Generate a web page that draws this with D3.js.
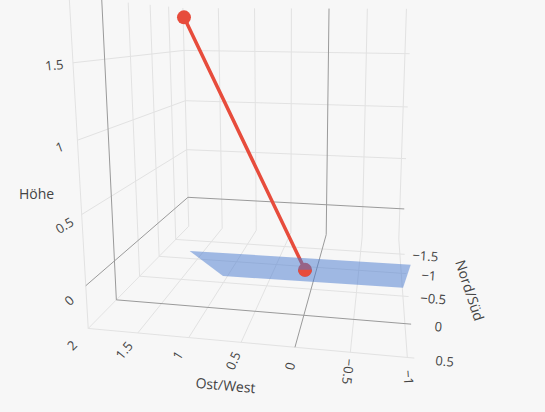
<!DOCTYPE html>
<html><head><meta charset="utf-8">
<script src="https://cdn.jsdelivr.net/npm/d3@7"></script>
<style>body{margin:0;background:#f7f7f7} svg{display:block}</style>
</head><body><svg id="c" width="545" height="412"></svg>
<script>
// ---- data ----
const xTicks=[-1,-0.5,0,0.5,1,1.5,2];
const yTicks=[-1.5,-1,-0.5,0,0.5];
const zTicks=[0,0.5,1,1.5];
const xRange=[-1.06,2.0], yRange=[-1.95,0.5], zRange=[-0.31,1.91];
// Ebene (plane patch)
const planeX=[1.61,-1.11,-1.00,1.00];
const planeY=[-1.03,-1.06,-0.52,-0.49];
const planeZ=[-0.25,-0.25,-0.25,-0.25];
// Gerade (line segment between two points)
const lineX=[1.95,0.11];
const lineY=[-1.86,-0.76];
const lineZ=[1.82,-0.25];
const axisTitles={x:"Ost/West",y:"Nord/Süd",z:"Höhe"};

(function(){
const W=545,H=412;
// scene normalisation (cube aspect) via d3 scales
const sx=d3.scaleLinear().domain(xRange).range([-1,1]);
const sy=d3.scaleLinear().domain(yRange).range([-1,1]);
const sz=d3.scaleLinear().domain(zRange).range([-1,1]);
// perspective camera (3x4 projection matrix, normalised screen units)
const camera={scale:300,cx:272.5,cy:206,
 M:[[-0.44697,-0.08145,-0.00133,0.00324],
    [-0.02445,0.13044,-0.44502,-0.20291],
    [0.03485,-0.22001,-0.03796,1.00000]]};
function proj(x,y,z){const P=[sx(x),sy(y),sz(z)],M=camera.M;
 const w=M[2][0]*P[0]+M[2][1]*P[1]+M[2][2]*P[2]+M[2][3];
 return [camera.cx+camera.scale*(M[0][0]*P[0]+M[0][1]*P[1]+M[0][2]*P[2]+M[0][3])/w,
         camera.cy+camera.scale*(M[1][0]*P[0]+M[1][1]*P[1]+M[1][2]*P[2]+M[1][3])/w];}

const svg=d3.select("#c");
svg.append("rect").attr("width",W).attr("height",H).attr("fill","#f7f7f7");
const [x0,x1]=xRange,[y0,y1]=yRange,[z0,z1]=zRange;

// grid lines on the three back planes
const segs=[];
yTicks.forEach(y=>segs.push({a:[x1,y,z0],b:[x1,y,z1],zero:y===0}));
zTicks.forEach(z=>segs.push({a:[x1,y0,z],b:[x1,y1,z],zero:z===0}));
xTicks.forEach(x=>segs.push({a:[x,y0,z0],b:[x,y0,z1],zero:x===0}));
zTicks.forEach(z=>segs.push({a:[x0,y0,z],b:[x1,y0,z],zero:z===0}));
xTicks.forEach(x=>segs.push({a:[x,y0,z0],b:[x,y1,z0],zero:x===0}));
yTicks.forEach(y=>segs.push({a:[x0,y,z0],b:[x1,y,z0],zero:y===0}));
function seg(sel){sel.each(function(s){const a=proj(...s.a),b=proj(...s.b);
 d3.select(this).attr("x1",a[0]).attr("y1",a[1]).attr("x2",b[0]).attr("y2",b[1]);});}
const g=svg.append("g");
g.selectAll("line.grid").data(segs.filter(s=>!s.zero)).join("line").attr("class","grid")
 .call(seg).attr("stroke","#e2e2e2").attr("stroke-width",1);
g.selectAll("line.zero").data(segs.filter(s=>s.zero)).join("line").attr("class","zero")
 .call(seg).attr("stroke","#9a9a9a").attr("stroke-width",1);

// tick labels and axis titles
const fmt=v=>String(v).replace("-","\u2212");
function ang(a,b){return Math.atan2(b[1]-a[1],b[0]-a[0])*180/Math.PI;}
function label(t,P,deg,size){svg.append("text").attr("transform",`translate(${P[0]},${P[1]}) rotate(${deg})`)
 .attr("text-anchor","middle").attr("dominant-baseline","central").attr("font-family","'Open Sans',sans-serif")
 .attr("font-size",size).attr("fill","#444").text(t);}
xTicks.forEach(x=>{let a=ang(proj(x,y1,z0),proj(x,y1-0.5,z0));if(a<-75)a+=180;
 label(fmt(x),proj(x,y1+0.25,z0),a,13);});
zTicks.forEach(z=>{const a=ang(proj(x1,y1,z),proj(x1,y1-0.5,z));label(fmt(z),proj(x1,y1+0.25,z),a,13);});
yTicks.forEach(y=>{const a=ang(proj(x0,y,z0),proj(x0-0.5,y,z0));label(fmt(y),proj(x0-0.26,y,z0),a,13);});
{const xm=(x0+x1)/2;label(axisTitles.x,proj(xm,y1+0.54,z0),ang(proj(xm,y1,z0),proj(xm-0.5,y1,z0)),14);}
{const ym=(y0+y1)/2,xo=x0-0.68;label(axisTitles.y,proj(xo,ym,z0),ang(proj(xo,ym,z0),proj(xo,ym+0.5,z0)),14);}
label(axisTitles.z,proj(x1,y1+0.56,0.78),0,14);

// data marks
const red="#e74c3c";
const linePts=lineX.map((x,i)=>proj(x,lineY[i],lineZ[i]));
const planePts=planeX.map((x,i)=>proj(x,planeY[i],planeZ[i]));
svg.append("path").attr("d",d3.line()(linePts)).attr("stroke",red).attr("stroke-width",3.5)
 .attr("stroke-linecap","round").attr("fill","none");
const bp=linePts[1],tp=linePts[0];
svg.append("circle").attr("cx",bp[0]).attr("cy",bp[1]).attr("r",7).attr("fill",red);
svg.append("path").attr("d",d3.line()(planePts)+"Z").attr("fill","rgb(72,122,208)").attr("fill-opacity",0.5);
svg.append("clipPath").attr("id","lh").append("rect").attr("x",bp[0]-10).attr("y",bp[1]).attr("width",20).attr("height",10);
svg.append("circle").attr("cx",bp[0]).attr("cy",bp[1]).attr("r",7).attr("fill",red).attr("clip-path","url(#lh)");
svg.append("circle").attr("cx",tp[0]).attr("cy",tp[1]).attr("r",7).attr("fill",red);
})();
</script></body></html>
